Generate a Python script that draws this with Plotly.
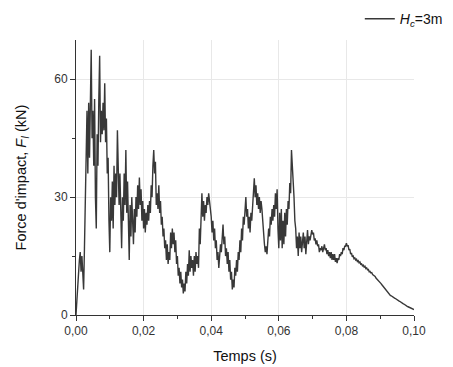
import plotly.graph_objects as go

# Sampling: one value every 0.25 ms, from 0 to 0.1 s
t_start = 0.0
t_step = 0.00025

force_kN = [
    # 0.000 - 0.005
    0, 4, 9, 12, 14, 16, 11, 15, 8, 6.5, 17, 28, 38, 52, 36, 54, 40, 58, 67.5, 45,
    # 0.005 - 0.010
    52, 38, 55, 30, 22, 46, 38, 55, 66, 44, 52, 46, 54, 47, 59, 44, 50, 36, 40, 24,
    # 0.010 - 0.015
    16, 30, 24, 34, 22, 38, 28, 36, 30, 47, 32, 28, 36, 22, 17, 30, 24, 36, 28, 42,
    # 0.015 - 0.020
    26, 34, 22, 14, 28, 20, 30, 24, 18, 27, 21, 30, 25, 33, 27, 35, 28, 32, 24, 29,
    # 0.020 - 0.025
    22, 27, 21, 26, 23, 28, 24, 29, 26, 33, 30, 38, 42, 36, 39, 28, 31, 27, 33, 26,
    # 0.025 - 0.030
    29, 23, 25, 20, 22, 17, 19, 14, 18, 13, 16, 14, 21, 17, 22, 18, 21, 16, 19, 13,
    # 0.030 - 0.035
    15, 10, 12, 8, 11, 7, 9, 5.5, 8, 6, 11, 8, 13, 10, 16.5, 11, 15, 12, 14, 10,
    # 0.035 - 0.040
    15, 11, 16, 13, 15, 12, 22, 18, 28, 31, 25, 29, 24, 28, 26, 30, 28, 31, 29, 27,
    # 0.040 - 0.045
    25, 21, 24, 19, 22, 17, 19, 14, 16, 12, 15, 18, 16, 21, 23, 18, 20, 15, 17, 13,
    # 0.045 - 0.050
    16, 11, 14, 9, 11, 6.5, 9, 7, 12, 10, 14, 11, 16, 14, 19, 16, 22, 19, 25, 23,
    # 0.050 - 0.055
    28, 30, 25, 27, 22, 25, 21, 26, 24, 29, 31, 34.8, 30, 33, 28, 31, 27, 30, 26, 29,
    # 0.055 - 0.060
    27, 23, 21, 18, 16, 17.5, 15.5, 19, 22, 20, 25, 23, 27, 24, 28, 25, 31, 27, 32, 22,
    # 0.060 - 0.065
    17, 26, 19, 27, 17, 24, 18, 26, 20, 27, 23, 29, 27, 33.6, 31, 42, 38, 36, 30, 24,
    # 0.065 - 0.070
    22, 17, 20, 15, 21, 17, 20, 16, 19, 21, 17, 20, 15.5, 20, 21.6, 18, 20, 19, 21, 21.6,
    # 0.070 - 0.075
    20.5, 21, 19, 19.5, 18, 19, 17.5, 18, 16, 17, 16.5, 17.5, 16, 17.5, 18, 16.5, 17, 15.5, 16.5, 15,
    # 0.075 - 0.080
    16, 14.5, 16, 14, 15.5, 14, 15.5, 13.5, 14.5, 13.2, 14.5, 14, 15.5, 15, 16, 15.5, 17, 16.5, 17.5, 17.5,
    # 0.080 - 0.085
    18.3, 17.5, 17.8, 16.5, 16.8, 15.5, 15.8, 14.8, 15, 14.3, 14.5, 14, 14.2, 13.6, 13.8, 13.3, 13.5, 12.9, 13, 12.5,
    # 0.085 - 0.090
    12.7, 12.2, 12.4, 11.8, 12, 11.5, 11.6, 11, 11.1, 10.7, 10.8, 10.3, 10.2, 9.9, 9.8, 9.4, 9.2, 8.9, 8.7, 8.5,
    # 0.090 - 0.095
    8.3, 8.0, 7.7, 7.4, 7.1, 6.8, 6.5, 6.2, 5.9, 5.7, 5.4, 5.2, 5.0, 4.9, 4.7, 4.6, 4.5, 4.3, 4.2, 4.0,
    # 0.095 - 0.100
    3.9, 3.8, 3.6, 3.5, 3.3, 3.2, 3.0, 2.9, 2.8, 2.6, 2.5, 2.4, 2.2, 2.1, 2.0, 1.9, 1.8, 1.7, 1.6, 1.5,
    1.4,
]

x_ticks = [0.00, 0.02, 0.04, 0.06, 0.08, 0.10]
y_ticks = [0, 30, 60]

series_name = "<i>H</i><sub><i>c</i></sub>=3m"
x_title = "Temps (s)"
y_title = "Force d'impact, <i>F</i><sub><i>I</i></sub> (kN)"

fig = go.Figure()
fig.add_trace(go.Scatter(
    x0=t_start, dx=t_step, y=force_kN,
    mode="lines", name=series_name,
    line=dict(color="#383838", width=1.4),
    showlegend=True,
))

axis_common = dict(
    showline=True, linecolor="#333333", linewidth=1,
    ticks="outside", tickcolor="#333333", ticklen=5, tickwidth=1,
    showgrid=True, gridcolor="#e8e8e8", gridwidth=1,
    zeroline=False, mirror=False, automargin=False,
    tickfont=dict(family="Liberation Sans, Arial, sans-serif", size=12, color="#333333"),
    title_font=dict(family="Liberation Sans, Arial, sans-serif", size=14.5, color="#111111"),
)

fig.update_xaxes(
    range=[0, 0.1], tickvals=x_ticks, tickformat=".2f",
    minor=dict(dtick=0.01, ticks="outside", ticklen=3, tickcolor="#333333", showgrid=False),
    title_text=x_title, title_standoff=13,
    **axis_common,
)
fig.update_yaxes(
    range=[0, 70], tickvals=y_ticks,
    minor=dict(dtick=15, ticks="outside", ticklen=3, tickcolor="#333333", showgrid=False),
    title_text=y_title, title_standoff=24,
    **axis_common,
)

fig.update_layout(
    width=453, height=367,
    margin=dict(l=76, r=39, t=40, b=52, autoexpand=False),
    paper_bgcolor="white", plot_bgcolor="white",
    separators=", ",
    legend=dict(
        x=1.10, xanchor="right", y=1.076, yanchor="middle",
        font=dict(family="Liberation Sans, Arial, sans-serif", size=14, color="#111111"),
        bgcolor="rgba(0,0,0,0)", borderwidth=0,
    ),
)

fig.write_html(
    "out.html",
    config={"displayModeBar": False},
    post_script="document.body.style.margin='0';",
)
